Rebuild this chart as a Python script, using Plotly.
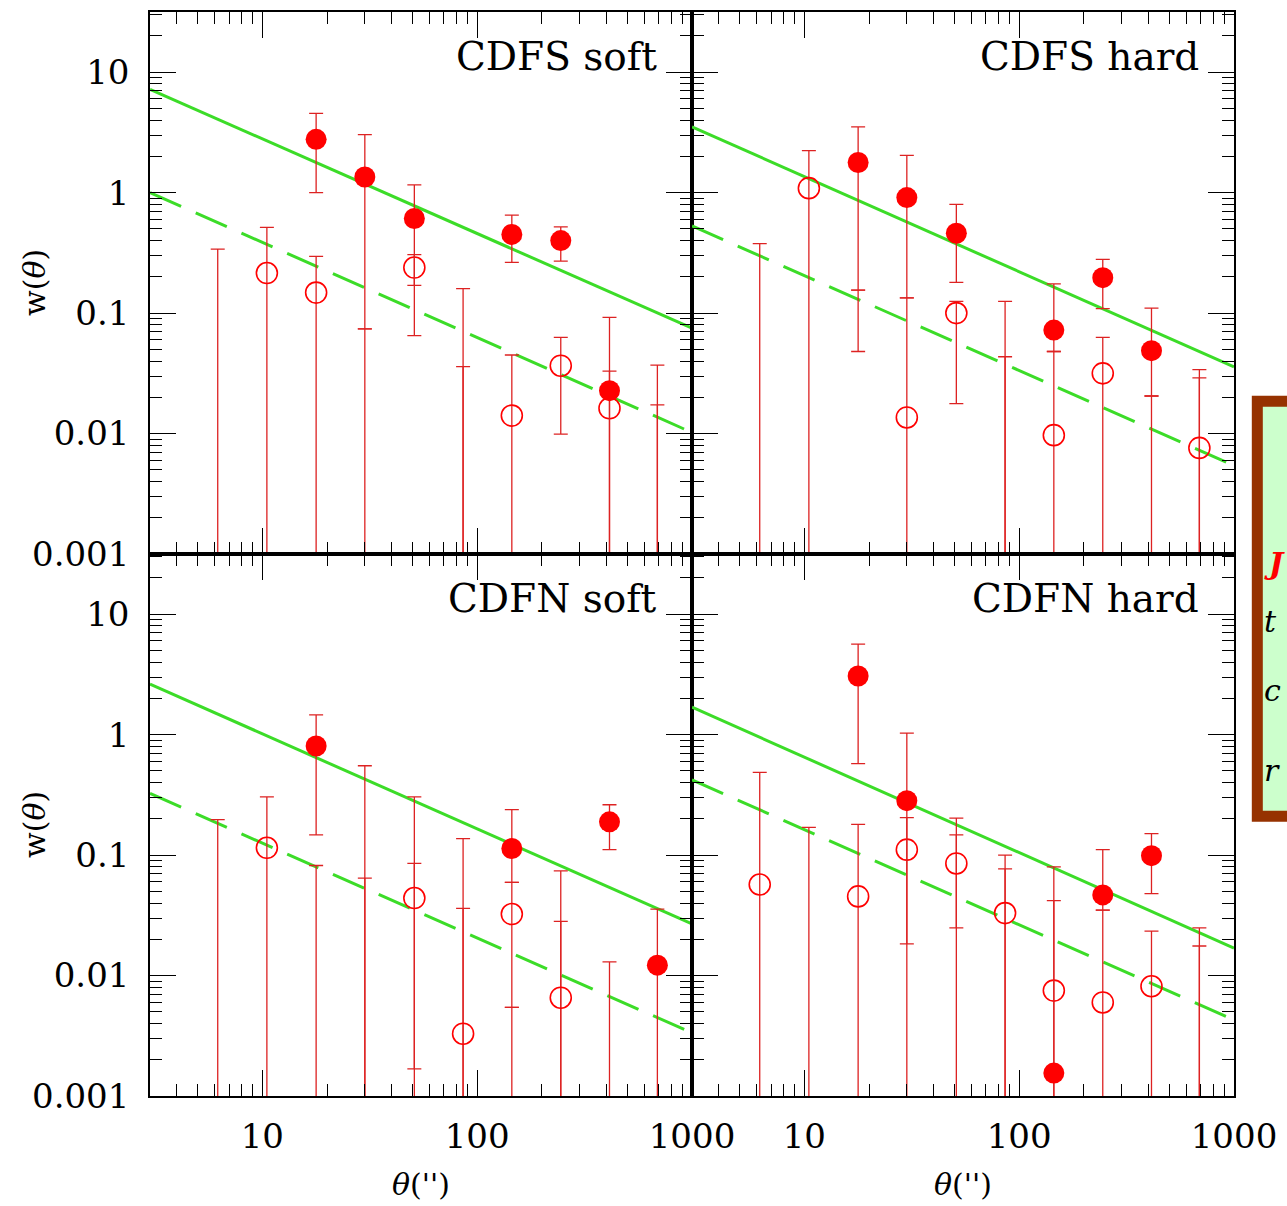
import math
import plotly.graph_objects as go
from plotly.subplots import make_subplots

# ---------------- data ----------------
PANEL_NAMES = ["CDFS soft", "CDFS hard", "CDFN soft", "CDFN hard"]

# CDFS soft
cdfs_soft_filled_x = [17.8, 30, 51, 145, 245, 413]
cdfs_soft_filled_y = [2.77, 1.35, 0.61, 0.45, 0.40, 0.0227]
cdfs_soft_filled_hi = [4.55, 3.03, 1.16, 0.65, 0.52, 0.092]
cdfs_soft_filled_lo = [1.0, 0.074, 0.065, 0.264, 0.27, 0]
cdfs_soft_open_x = [10.5, 17.8, 51, 145, 245, 413]
cdfs_soft_open_y = [0.215, 0.148, 0.239, 0.0141, 0.0366, 0.0162]
cdfs_soft_open_hi = [0.515, 0.296, 0.306, 0.0449, 0.063, 0.033]
cdfs_soft_open_lo = [0, 0, 0.17, 0, 0.0099, 0]
cdfs_soft_bar_x = [6.2, 30, 86, 86, 690, 690]
cdfs_soft_bar_hi = [0.34, 0.074, 0.16, 0.036, 0.037, 0.0173]
cdfs_soft_bar_lo = [0, 0, 0, 0, 0, 0]
cdfs_soft_fit_solid = [7.2, 0.075]
cdfs_soft_fit_dashed = [1.0, 0.0102]

# CDFS hard
cdfs_hard_filled_x = [17.8, 30, 51, 145, 245, 413]
cdfs_hard_filled_y = [1.78, 0.91, 0.46, 0.0723, 0.197, 0.0488]
cdfs_hard_filled_hi = [3.52, 2.04, 0.80, 0.175, 0.279, 0.110]
cdfs_hard_filled_lo = [0.155, 0.134, 0.18, 0.048, 0.109, 0.0205]
cdfs_hard_open_x = [10.5, 30, 51, 145, 245, 690]
cdfs_hard_open_y = [1.09, 0.0136, 0.10, 0.0097, 0.0316, 0.0076]
cdfs_hard_open_hi = [2.23, 0.134, 0.125, 0.048, 0.063, 0.034]
cdfs_hard_open_lo = [0, 0, 0.0177, 0, 0, 0]
cdfs_hard_bar_x = [6.2, 17.8, 86, 86, 413, 690]
cdfs_hard_bar_hi = [0.378, 0.155, 0.125, 0.0434, 0.0205, 0.029]
cdfs_hard_bar_lo = [0, 0.048, 0, 0, 0, 0]
cdfs_hard_fit_solid = [3.52, 0.0358]
cdfs_hard_fit_dashed = [0.53, 0.00543]

# CDFN soft
cdfn_soft_filled_x = [17.8, 145, 413, 690]
cdfn_soft_filled_y = [0.805, 0.1135, 0.189, 0.0122]
cdfn_soft_filled_hi = [1.46, 0.239, 0.262, 0.0356]
cdfn_soft_filled_lo = [0.147, 0.0593, 0.111, 0]
cdfn_soft_open_x = [10.5, 51, 86, 145, 245]
cdfn_soft_open_y = [0.115, 0.044, 0.00329, 0.0324, 0.00655]
cdfn_soft_open_hi = [0.305, 0.0853, 0.0361, 0.0593, 0.0282]
cdfn_soft_open_lo = [0, 0.00168, 0, 0.00544, 0]
cdfn_soft_bar_x = [6.2, 17.8, 30, 30, 51, 86, 145, 245, 413]
cdfn_soft_bar_hi = [0.197, 0.082, 0.552, 0.0644, 0.305, 0.137, 0.00544, 0.074, 0.013]
cdfn_soft_bar_lo = [0, 0, 0, 0, 0, 0, 0, 0, 0]
cdfn_soft_fit_solid = [2.63, 0.0268]
cdfn_soft_fit_dashed = [0.325, 0.00334]

# CDFN hard
cdfn_hard_filled_x = [17.8, 30, 145, 245, 413]
cdfn_hard_filled_y = [3.07, 0.283, 0.00155, 0.0467, 0.099]
cdfn_hard_filled_hi = [5.65, 1.03, 0.080, 0.111, 0.151]
cdfn_hard_filled_lo = [0.574, 0.0183, 0, 0.035, 0.0478]
cdfn_hard_open_x = [6.2, 17.8, 30, 51, 86, 145, 245, 413]
cdfn_hard_open_y = [0.057, 0.0454, 0.111, 0.0853, 0.033, 0.0075, 0.00598, 0.00815]
cdfn_hard_open_hi = [0.487, 0.180, 0.205, 0.147, 0.0769, 0.0419, 0.035, 0.0234]
cdfn_hard_open_lo = [0, 0, 0, 0.0249, 0, 0, 0, 0]
cdfn_hard_bar_x = [10.5, 51, 86, 690, 690]
cdfn_hard_bar_hi = [0.170, 0.203, 0.1, 0.0249, 0.0176]
cdfn_hard_bar_lo = [0, 0, 0, 0, 0]
cdfn_hard_fit_solid = [1.69, 0.0169]
cdfn_hard_fit_dashed = [0.422, 0.00427]

FIT_X = [3, 1000]
X_RANGE = [3, 1000]
Y_RANGE = [0.001, 10 ** 1.5]
X_TICKS = [10, 100, 1000]
X_TICK_TEXT = ["10", "100", "1000"]
Y_TICKS = [0.001, 0.01, 0.1, 1, 10]
Y_TICK_TEXT = ["0.001", "0.01", "0.1", "1", "10"]

panels = [
    dict(fx=cdfs_soft_filled_x, fy=cdfs_soft_filled_y, fhi=cdfs_soft_filled_hi, flo=cdfs_soft_filled_lo,
         ox=cdfs_soft_open_x, oy=cdfs_soft_open_y, ohi=cdfs_soft_open_hi, olo=cdfs_soft_open_lo,
         bx=cdfs_soft_bar_x, bhi=cdfs_soft_bar_hi, blo=cdfs_soft_bar_lo,
         solid=cdfs_soft_fit_solid, dashed=cdfs_soft_fit_dashed),
    dict(fx=cdfs_hard_filled_x, fy=cdfs_hard_filled_y, fhi=cdfs_hard_filled_hi, flo=cdfs_hard_filled_lo,
         ox=cdfs_hard_open_x, oy=cdfs_hard_open_y, ohi=cdfs_hard_open_hi, olo=cdfs_hard_open_lo,
         bx=cdfs_hard_bar_x, bhi=cdfs_hard_bar_hi, blo=cdfs_hard_bar_lo,
         solid=cdfs_hard_fit_solid, dashed=cdfs_hard_fit_dashed),
    dict(fx=cdfn_soft_filled_x, fy=cdfn_soft_filled_y, fhi=cdfn_soft_filled_hi, flo=cdfn_soft_filled_lo,
         ox=cdfn_soft_open_x, oy=cdfn_soft_open_y, ohi=cdfn_soft_open_hi, olo=cdfn_soft_open_lo,
         bx=cdfn_soft_bar_x, bhi=cdfn_soft_bar_hi, blo=cdfn_soft_bar_lo,
         solid=cdfn_soft_fit_solid, dashed=cdfn_soft_fit_dashed),
    dict(fx=cdfn_hard_filled_x, fy=cdfn_hard_filled_y, fhi=cdfn_hard_filled_hi, flo=cdfn_hard_filled_lo,
         ox=cdfn_hard_open_x, oy=cdfn_hard_open_y, ohi=cdfn_hard_open_hi, olo=cdfn_hard_open_lo,
         bx=cdfn_hard_bar_x, bhi=cdfn_hard_bar_hi, blo=cdfn_hard_bar_lo,
         solid=cdfn_hard_fit_solid, dashed=cdfn_hard_fit_dashed),
]

# ---------------- style ----------------
RED = "#ff0000"
ERR_RED = "#dd2222"
GREEN = "#3cdc28"
FONT = "DejaVu Serif"
W, H = 1287, 1206
ML, MR, MT, MB = 150, 47, 10, 110

fig = make_subplots(rows=2, cols=2, horizontal_spacing=0, vertical_spacing=0)


def err(y, hi, lo):
    return dict(type="data", array=[h - v for v, h in zip(y, hi)],
                arrayminus=[v - l for v, l in zip(y, lo)],
                color=ERR_RED, thickness=1.3, width=7, visible=True)


for i, p in enumerate(panels):
    r, c = i // 2 + 1, i % 2 + 1
    # fit lines
    fig.add_trace(go.Scatter(x=FIT_X, y=p["solid"], mode="lines",
                             line=dict(color=GREEN, width=3), hoverinfo="skip"), row=r, col=c)
    fig.add_trace(go.Scatter(x=FIT_X, y=p["dashed"], mode="lines",
                             line=dict(color=GREEN, width=3, dash="34px,16px"), hoverinfo="skip"),
                  row=r, col=c)
    # error bars without a visible marker
    fig.add_trace(go.Scatter(x=p["bx"], y=p["bhi"], mode="markers",
                             marker=dict(size=1, color="rgba(0,0,0,0)"),
                             error_y=err(p["bhi"], p["bhi"], p["blo"])), row=r, col=c)
    # open circles
    fig.add_trace(go.Scatter(x=p["ox"], y=p["oy"], mode="markers",
                             marker=dict(symbol="circle-open", size=21, color=RED,
                                         line=dict(width=1.6, color=RED)),
                             error_y=err(p["oy"], p["ohi"], p["olo"])), row=r, col=c)
    # filled circles
    fig.add_trace(go.Scatter(x=p["fx"], y=p["fy"], mode="markers",
                             marker=dict(symbol="circle", size=21, color=RED,
                                         line=dict(width=0)),
                             error_y=err(p["fy"], p["fhi"], p["flo"])), row=r, col=c)

x_minor = [m * 10 ** e for e in range(0, 3) for m in range(2, 10)]
y_minor = [m * 10 ** e for e in range(-3, 2) for m in range(2, 10)]

for i in range(4):
    r, c = i // 2 + 1, i % 2 + 1
    fig.update_xaxes(type="log", range=[math.log10(X_RANGE[0]), math.log10(X_RANGE[1])],
                     tickmode="array", tickvals=X_TICKS, ticktext=X_TICK_TEXT,
                     showticklabels=(r == 2), ticks="inside", ticklen=26, tickwidth=1.3,
                     tickcolor="black", showline=True, linecolor="black", linewidth=1.6,
                     mirror="ticks", showgrid=False, zeroline=False,
                     tickfont=dict(family=FONT, size=34, color="black"),
                     ticklabelstandoff=9,
                     minor=dict(tickmode="array", tickvals=x_minor, ticks="inside", ticklen=12,
                                tickwidth=1.3, tickcolor="black", showgrid=False),
                     row=r, col=c)
    fig.update_yaxes(type="log", range=[math.log10(Y_RANGE[0]), math.log10(Y_RANGE[1])],
                     tickmode="array", tickvals=Y_TICKS, ticktext=Y_TICK_TEXT,
                     showticklabels=(c == 1), ticks="inside", ticklen=26, tickwidth=1.3,
                     tickcolor="black", showline=True, linecolor="black", linewidth=1.6,
                     mirror="ticks", showgrid=False, zeroline=False,
                     tickfont=dict(family=FONT, size=34, color="black"),
                     ticklabelstandoff=12,
                     minor=dict(tickmode="array", tickvals=y_minor, ticks="inside", ticklen=12,
                                tickwidth=1.3, tickcolor="black", showgrid=False),
                     row=r, col=c)

annotations = []
# panel labels
for i, name in enumerate(PANEL_NAMES):
    ax = "" if i == 0 else str(i + 1)
    annotations.append(dict(text=name, xref=f"x{ax} domain", yref=f"y{ax} domain",
                            x=0.94, y=0.917, xanchor="right", yanchor="middle", showarrow=False,
                            font=dict(family=FONT, size=39, color="black")))
# axis titles
for yy in (0.75, 0.25):
    annotations.append(dict(text="w(<i>θ</i>)", xref="paper", yref="paper", x=-0.107, y=yy,
                            xanchor="center", yanchor="middle", textangle=-90, showarrow=False,
                            font=dict(family=FONT, size=30, color="black")))
for xx in (0.25, 0.75):
    annotations.append(dict(text="<i>θ</i>('')", xref="paper", yref="paper", x=xx, y=-0.082,
                            xanchor="center", yanchor="middle", showarrow=False,
                            font=dict(family=FONT, size=30, color="black")))
# side note box (clipped by the page edge in the reference)
side_letters = [("<b><i>J</i></b>", "#ff0000", 0.491), ("<i>t</i>", "black", 0.438),
                ("<i>c</i>", "black", 0.374), ("<i>r</i>", "black", 0.300)]
for txt, col, yy in side_letters:
    annotations.append(dict(text=txt, xref="paper", yref="paper", x=1.0255, y=yy,
                            xanchor="left", yanchor="middle", showarrow=False,
                            font=dict(family=FONT, size=30, color=col)))

shapes = [dict(type="rect", xref="paper", yref="paper", x0=1.0215, x1=1.07, y0=0.258, y1=0.641,
               line=dict(color="#963200", width=11), fillcolor="#ccffcc", layer="below")]

fig.update_layout(width=W, height=H, margin=dict(l=ML, r=MR, t=MT, b=MB),
                  paper_bgcolor="white", plot_bgcolor="white", showlegend=False,
                  font=dict(family=FONT, color="black"),
                  annotations=annotations, shapes=shapes)

fig.write_html("out.html", config={"displayModeBar": False},
               post_script="document.body.style.margin='0';document.body.style.overflow='hidden';")
